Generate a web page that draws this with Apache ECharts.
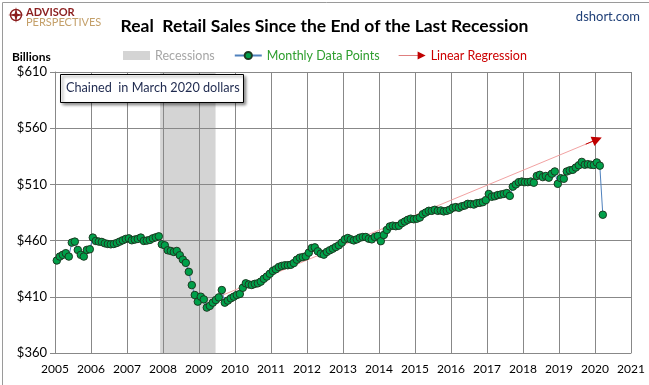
<!DOCTYPE html>
<html>
<head>
<meta charset="utf-8">
<script src="https://cdn.jsdelivr.net/npm/echarts@6/dist/echarts.min.js"></script>
<style>
html,body{margin:0;padding:0;background:#fff;}
#chart{width:649px;height:385px;}
</style>
</head>
<body>
<div id="chart"></div>
<script>
// ---- Data ----
const firstYear = 2005;          // first monthly observation: Jan 2005
const monthOffset = 0.6;         // points sit slightly after the start of each month
const realRetailSales = [
  // 2005
  442.3, 445.8, 447.3, 448.8, 445.8, 458.2, 459.1, 451.7, 447.3, 445.8, 451.7, 452.3,
  // 2006
  462.7, 459.7, 459.1, 458.8, 457.6, 457.0, 456.7, 457.0, 457.9, 459.1, 460.3, 461.5,
  // 2007
  462.0, 460.3, 460.9, 461.5, 462.7, 459.7, 460.0, 460.6, 462.0, 462.9, 463.8, 456.7,
  // 2008
  455.8, 451.4, 450.8, 449.9, 450.8, 447.0, 443.1, 440.2, 432.2, 420.4, 411.6, 405.7,
  // 2009
  410.1, 407.7, 400.4, 401.9, 404.8, 407.1, 409.5, 416.0, 404.8, 406.6, 408.6, 410.1,
  // 2010
  411.6, 412.5, 418.0, 422.0, 421.0, 420.5, 421.5, 422.0, 423.5, 426.0, 428.0, 430.5,
  // 2011
  433.0, 434.5, 436.5, 437.5, 438.0, 438.1, 438.5, 440.0, 443.0, 444.8, 445.3, 446.0,
  // 2012
  449.3, 453.4, 454.0, 450.5, 448.4, 447.5, 449.9, 451.4, 452.8, 454.3, 455.8, 458.2,
  // 2013
  461.1, 462.3, 461.1, 460.2, 461.1, 462.6, 463.2, 463.2, 461.7, 461.1, 463.2, 464.1,
  // 2014
  459.5, 465.0, 469.5, 472.6, 473.3, 472.8, 473.2, 475.5, 477.0, 478.5, 479.5, 479.0,
  // 2015
  479.5, 480.5, 483.5, 485.0, 486.5, 486.5, 487.4, 486.5, 486.8, 486.0, 486.5, 487.5,
  // 2016
  489.2, 489.8, 489.2, 490.5, 491.2, 492.7, 492.5, 492.1, 493.3, 493.6, 494.2, 496.0,
  // 2017
  501.5, 499.0, 499.5, 500.5, 501.0, 501.5, 502.3, 499.8, 508.0, 510.0, 512.0, 512.5,
  // 2018
  512.0, 512.0, 512.5, 511.5, 517.5, 518.5, 516.5, 517.5, 516.0, 519.5, 521.5, 510.5,
  // 2019
  515.5, 515.0, 521.5, 522.5, 523.0, 525.0, 527.0, 530.0, 527.5, 528.0, 527.5, 527.3,
  // 2020
  529.5, 526.7, 483.0
];
const recessionSpan = [2007.92, 2009.46];           // Dec 2007 - Jun 2009
const regressionStart = [2009.47, 409.0];
const regressionEnd = [2020.06, 550.0];
const yearTicks = [2005, 2021, 1];                  // min, max, step
const dollarTicks = [360, 610, 50];                 // min, max, step

// ---- Build ----
const FONT = 'Lato, "Liberation Sans", sans-serif';
const points = realRetailSales.map((v, i) => [firstYear + (i + monthOffset) / 12, v]);
const arrowFrom = [
  regressionStart[0] + 0.97 * (regressionEnd[0] - regressionStart[0]),
  regressionStart[1] + 0.97 * (regressionEnd[1] - regressionStart[1])
];

const chart = echarts.init(document.getElementById('chart'), null, {renderer: 'canvas'});
const option = {
  animation: false,
  backgroundColor: '#ffffff',
  title: {
    text: 'Real  Retail Sales Since the End of the Last Recession',
    left: 'center',
    top: 12,
    textStyle: {fontFamily: FONT, fontSize: 17.5, fontWeight: 'bold', color: '#000'}
  },
  legend: {
    left: 118,
    top: 44,
    itemWidth: 27,
    itemHeight: 9,
    itemGap: 19,
    textStyle: {fontFamily: FONT, fontSize: 12.5},
    data: [
      {name: 'Recessions', icon: 'rect', itemStyle: {color: '#D4D4D4'}, textStyle: {color: '#A6A6A6'}},
      {name: 'Monthly Data Points', textStyle: {color: '#2E9E2E'}},
      {name: 'Linear Regression', icon: 'path://M0,4.2 L19,4.2 L19,4.8 L0,4.8 Z M19,0.5 L27,4.5 L19,8.5 Z',
        itemStyle: {color: '#C00000'}, textStyle: {color: '#CC0000'}}
    ]
  },
  grid: {left: 55, right: 18, top: 72, bottom: 32},
  xAxis: {
    type: 'value', min: yearTicks[0], max: yearTicks[1], interval: yearTicks[2], z: 3,
    axisLine: {lineStyle: {color: '#888888', width: 1}},
    axisTick: {show: false},
    splitLine: {show: true, lineStyle: {color: '#888888', width: 1}},
    axisLabel: {color: '#000', fontFamily: FONT, fontSize: 12, margin: 10, formatter: v => String(v)}
  },
  yAxis: {
    type: 'value', min: dollarTicks[0], max: dollarTicks[1], interval: dollarTicks[2], z: 3,
    name: 'Billions',
    nameLocation: 'end',
    nameGap: 9,
    nameTextStyle: {fontFamily: FONT, fontSize: 12, fontWeight: 'bold', color: '#000', align: 'left', padding: [0, 0, 0, -43]},
    axisLine: {show: true, lineStyle: {color: '#888888', width: 1}},
    axisTick: {show: true, length: 5, lineStyle: {color: '#888888'}},
    splitLine: {show: true, lineStyle: {color: '#888888', width: 1}},
    axisLabel: {color: '#000', fontFamily: FONT, fontSize: 13, margin: 8, formatter: v => '$' + v}
  },
  series: [
    {
      name: 'Recessions', type: 'line', data: [], z: 1,
      itemStyle: {color: '#D4D4D4'},
      markArea: {
        silent: true,
        itemStyle: {color: '#D4D4D4'},
        data: [[{xAxis: recessionSpan[0]}, {xAxis: recessionSpan[1]}]]
      }
    },
    {
      name: 'Linear Regression', type: 'line', z: 4,
      data: [regressionStart, regressionEnd],
      symbol: 'none',
      itemStyle: {color: '#C00000'},
      lineStyle: {color: '#F2A2A2', width: 1},
      markLine: {
        silent: true,
        symbol: ['none', 'triangle'],
        symbolSize: [10, 10],
        label: {show: false},
        lineStyle: {color: '#C00000', width: 1, type: 'solid'},
        data: [[{coord: arrowFrom}, {coord: regressionEnd}]]
      }
    },
    {
      name: 'Monthly Data Points', type: 'line', z: 5,
      data: points,
      symbol: 'circle',
      symbolSize: 7.5,
      showAllSymbol: true,
      lineStyle: {color: '#4F81BD', width: 1},
      itemStyle: {color: '#00A04A', borderColor: '#1C3A22', borderWidth: 1}
    }
  ],
  graphic: [
    {type: 'rect', left: 0, top: 0, z: 100, silent: true,
      shape: {x: 0.5, y: 0.5, width: 648, height: 384},
      style: {fill: 'none', stroke: '#9A9A9A', lineWidth: 1}},
    {type: 'group', left: 8, top: 7, z: 100, children: [
      {type: 'circle', z: 100, shape: {cx: 7, cy: 8, r: 5.5}, style: {fill: 'none', stroke: '#8B1E1E', lineWidth: 1.4}},
      {type: 'polygon', z: 100, shape: {points: [[7, 0], [8.3, 6.7], [15, 8], [8.3, 9.3], [7, 16], [5.7, 9.3], [-1, 8], [5.7, 6.7]]},
        style: {fill: '#8B1E1E'}},
      {type: 'text', z: 100, x: 17, y: 0, style: {text: 'ADVISOR', font: 'bold 11px ' + FONT, fill: '#8B1E1E'}},
      {type: 'text', z: 100, x: 17, y: 10, style: {text: 'PERSPECTIVES', font: '11px ' + FONT, fill: '#C4A06A'}}
    ]},
    {type: 'text', right: 9, top: 10, z: 100,
      style: {text: 'dshort.com', font: '13px ' + FONT, fill: '#1F3F77'}},
    {type: 'rect', z: 100, left: 60, top: 74,
      shape: {x: 0, y: 0, width: 183, height: 28},
      style: {fill: '#fff', stroke: '#000', lineWidth: 1,
        shadowBlur: 3, shadowOffsetX: 2, shadowOffsetY: 2, shadowColor: 'rgba(0,0,0,0.45)'}},
    {type: 'text', z: 101, left: 66, top: 81,
      style: {text: 'Chained  in March 2020 dollars', font: '12.7px ' + FONT, fill: '#1F2A4F'}}
  ]
};
chart.setOption(option);
</script>
</body>
</html>
